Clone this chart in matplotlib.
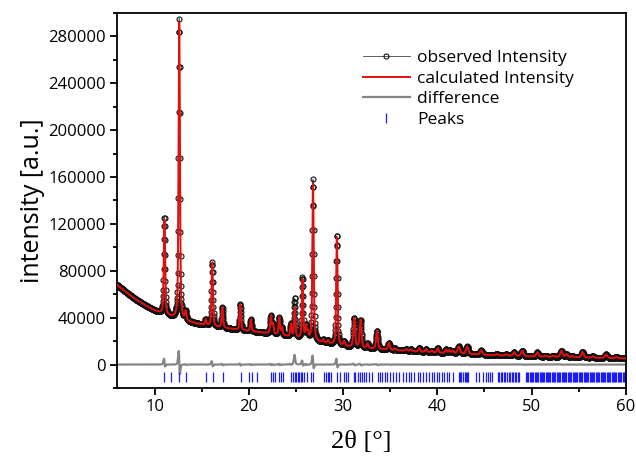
import numpy as np
import matplotlib
matplotlib.use("Agg")
import matplotlib.pyplot as plt
from matplotlib.ticker import MultipleLocator, FormatStrFormatter

plt.rcParams["font.family"] = ["Open Sans", "DejaVu Sans"]

# background level between reflections
bg_2theta = [6, 7, 8, 9, 10, 11, 12, 13, 14, 15, 16, 17, 18, 19, 20, 22, 24,
             26, 28, 30, 32, 34, 36, 38, 40, 42, 45, 50, 55, 60]
bg_intensity = [68000, 61500, 55500, 50500, 46000, 42500, 39800, 37500, 35600,
                34000, 32700, 31600, 30500, 29500, 28500, 26700, 24200, 21300,
                18300, 15600, 14000, 13000, 12000, 11000, 10000, 9400, 8300,
                6800, 6000, 5200]

# reflections: position, net height above background (observed / calculated)
peak_pos = [11.03, 12.60, 13.28, 15.40, 16.10, 17.18, 19.08, 20.20, 22.32,
            22.55, 23.22, 23.50, 24.45, 24.85, 25.68, 26.05, 26.25, 26.80,
            27.90, 28.40, 29.33, 30.10, 31.17, 31.85, 32.58, 33.58, 34.85,
            35.50, 36.70, 37.20, 38.08, 38.80, 39.40, 40.03, 40.92, 41.30,
            41.65, 42.27, 43.16, 44.65, 46.30, 47.30, 48.15, 49.00, 50.60,
            51.50, 52.30, 53.16, 53.70, 54.30, 55.40, 56.50, 57.90, 59.00]
peak_obs = [83500, 256500, 7500, 4700, 55000, 17200, 21900, 10200, 15400,
            8500, 15000, 6500, 10600, 33200, 52300, 10500, 6000, 137400,
            2500, 2500, 93900, 4000, 25000, 23900, 4000, 15400, 6000,
            1500, 1500, 1500, 3000, 2700, 1500, 4000, 3000, 2500,
            2000, 6100, 6400, 3600, 1000, 1000, 3000, 4700, 3600,
            1000, 1000, 5400, 2500, 1200, 4800, 1200, 3200, 1200]
peak_calc = [81000, 254000, 7500, 4700, 54000, 17200, 21900, 10200, 15400,
             8500, 15000, 6500, 10600, 25200, 50500, 10500, 6000, 134000,
             2500, 2500, 92000, 4000, 25000, 23900, 4000, 15400, 6000,
             1500, 1500, 1500, 3000, 2700, 1500, 4000, 3000, 2500,
             2000, 6100, 6400, 3600, 1000, 1000, 3000, 4700, 3600,
             1000, 1000, 5400, 2500, 1200, 4800, 1200, 3200, 1200]
peak_fwhm = [0.17] * 21 + [0.22] * 16 + [0.28] * 17

# Bragg positions (blue tick row)
peak_marks = [
    11.03, 11.70, 12.58, 13.35, 15.45, 16.16, 17.22, 19.12, 20.02, 20.35,
    20.88, 22.32, 22.52, 22.75, 23.20, 23.40, 23.58, 24.50, 24.66, 24.85,
    25.02, 25.18, 25.32, 25.48, 25.65, 25.82, 26.20, 26.62, 26.80, 27.95,
    28.15, 28.35, 28.55, 28.72, 29.30, 29.67, 30.14, 30.32, 30.50, 31.12,
    31.30, 31.60, 31.75, 32.05, 32.25, 32.42, 32.76, 33.10, 33.65, 33.90,
    34.10, 34.45, 34.70, 34.96, 35.25, 35.60, 35.88, 36.30, 36.65, 36.94,
    37.20, 37.55, 37.90, 38.15, 38.43, 38.80, 39.15, 39.42, 39.68, 39.93,
    40.21, 40.50, 40.74, 40.99, 41.28, 41.63, 42.28, 42.40, 42.55, 42.70,
    42.88, 43.05, 43.18, 43.30, 44.12, 44.47, 44.82, 45.18, 45.40, 45.62,
    45.85, 46.42, 46.58, 46.75, 46.90, 47.08, 47.22, 47.40, 47.55, 47.71,
    47.88, 48.02, 48.20, 48.35, 48.52, 48.68, 49.40, 49.52, 49.66, 49.78,
    49.93, 50.05, 50.18, 50.31, 50.45, 50.58, 50.70, 50.84, 50.96, 51.10,
    51.22, 51.36, 51.48, 51.61, 51.75, 51.88, 52.00, 52.13, 52.27, 52.40,
    52.52, 52.66, 52.79, 52.91, 53.05, 53.18, 53.30, 53.44, 53.57, 53.69,
    53.83, 53.96, 54.08, 54.22, 54.35, 54.47, 54.60, 54.74, 54.87, 54.99,
    55.12, 55.26, 55.38, 55.51, 55.64, 55.77, 55.90, 56.03, 56.16, 56.28,
    56.42, 56.55, 56.67, 56.80, 56.94, 57.06, 57.19, 57.32, 57.45, 57.58,
    57.70, 57.84, 57.97, 58.09, 58.22, 58.36, 58.48, 58.61, 58.74, 58.87,
    59.00, 59.13, 59.26, 59.38, 59.52, 59.65, 59.77, 59.90]

STEP = 0.02          # measurement step in 2theta
CALC_SHIFT = 0.005   # small zero-shift of the fit, gives the diff wiggles
MARK_LEVEL = -10200


def pattern(x, heights, shift=0.0):
    """Background + pseudo-Voigt reflections."""
    y = np.interp(x, bg_2theta, bg_intensity)
    for p, h, w in zip(peak_pos, heights, peak_fwhm):
        d = (x - p - shift) / w
        y = y + h * (0.5 * np.exp(-4 * np.log(2) * d ** 2) + 0.5 / (1 + 4 * d ** 2))
    return y


tth = np.arange(6.0, 60.0 + STEP / 2, STEP)
obs = pattern(tth, peak_obs)
calc = pattern(tth, peak_calc, CALC_SHIFT)
diff = obs - calc

fig = plt.figure(figsize=(6.36, 4.63), dpi=100)
ax = fig.add_axes([0.184, 0.162, 0.800, 0.810])

ax.plot(tth, obs, "-", color="#444444", lw=0.6, marker="o", ms=3.6,
        mfc="none", mec="#111111", mew=0.8, label="observed Intensity", zorder=2)
ax.plot(tth, calc, "-", color="#e01010", lw=1.4, label="calculated Intensity", zorder=3)
ax.plot(tth, diff, "-", color="#858585", lw=1.6, label="difference", zorder=2)
ax.plot(peak_marks, [MARK_LEVEL] * len(peak_marks), "|", color="#1a1aff",
        ms=6.5, mew=0.9, ls="none", label="Peaks", zorder=2)

ax.set_xlim(6, 60)
ax.set_ylim(-20000, 300000)
ax.xaxis.set_major_locator(MultipleLocator(10))
ax.xaxis.set_minor_locator(MultipleLocator(5))
ax.yaxis.set_major_locator(MultipleLocator(40000))
ax.yaxis.set_minor_locator(MultipleLocator(20000))
ax.yaxis.set_major_formatter(FormatStrFormatter("%d"))

for s in ax.spines.values():
    s.set_linewidth(1.3)
ax.tick_params(which="both", direction="out", width=1.3, labelsize=12,
               top=False, right=False)
ax.tick_params(which="major", length=5, pad=3)
ax.tick_params(which="minor", length=3)

ax.set_ylabel("intensity [a.u.]", fontsize=18)
ax.yaxis.set_label_coords(-0.141, 0.5)
ax.set_xlabel("2θ [°]", fontsize=19, family=["Liberation Serif", "DejaVu Serif"])
ax.xaxis.set_label_coords(0.48, -0.115)

ax.legend(loc="upper left", bbox_to_anchor=(363 / 636, 1 - 50 / 463),
          bbox_transform=fig.transFigure, frameon=False, fontsize=12.5,
          numpoints=1, handlelength=2.7, handletextpad=0.4, labelspacing=0.25,
          borderpad=0, borderaxespad=0)

fig.savefig("out.png", dpi=100)
